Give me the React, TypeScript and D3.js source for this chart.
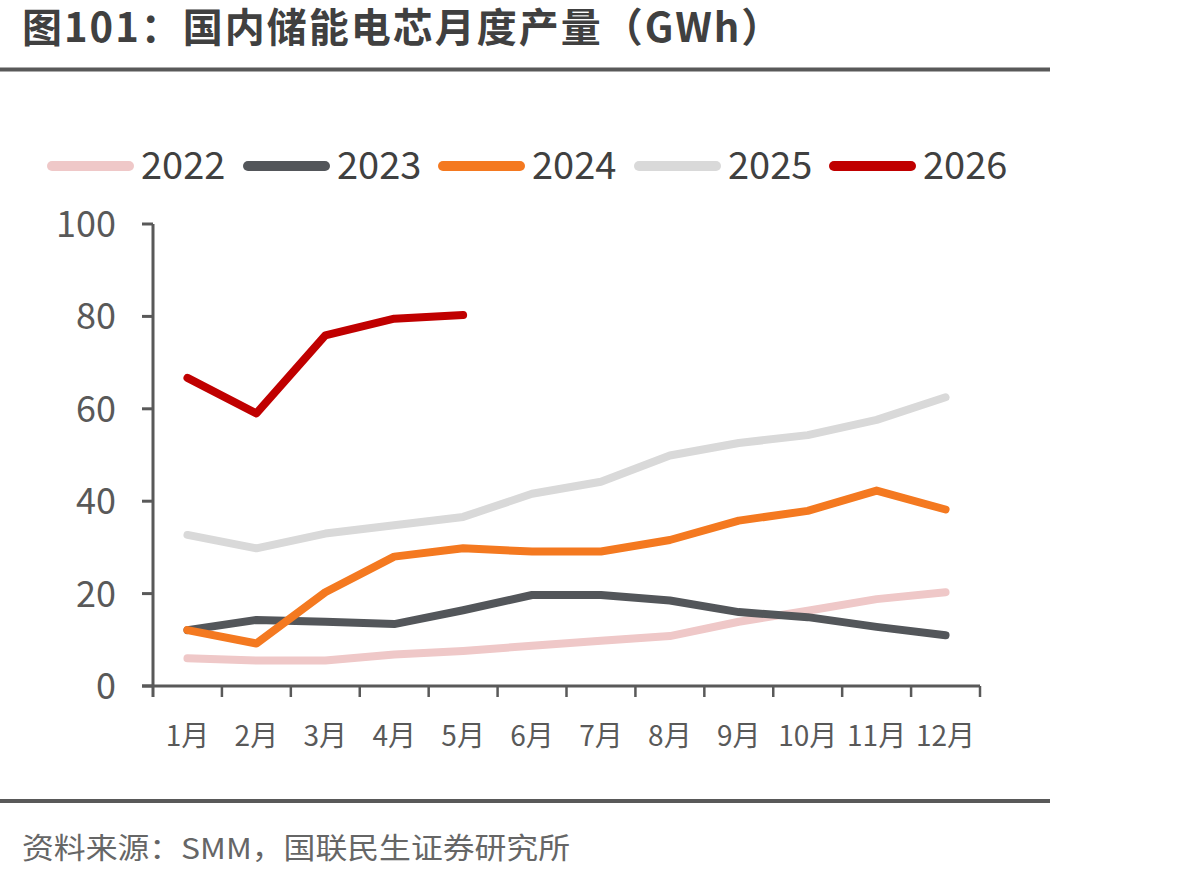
import React from "react";
import * as d3 from "d3";

const months = ["1月","2月","3月","4月","5月","6月","7月","8月","9月","10月","11月","12月"];
const yTicks = [0, 20, 40, 60, 80, 100];

const s2022 = [6.0, 5.5, 5.5, 6.8, 7.6, 8.7, 9.8, 10.8, 13.9, 16.3, 18.8, 20.3];
const s2023 = [12.1, 14.3, 13.9, 13.4, 16.4, 19.7, 19.7, 18.5, 16.0, 14.9, 12.8, 11.0];
const s2024 = [12.1, 9.2, 20.3, 28.0, 29.8, 29.1, 29.1, 31.6, 35.8, 37.9, 42.3, 38.2];
const s2025 = [32.7, 29.8, 33.0, 34.8, 36.6, 41.6, 44.2, 49.9, 52.6, 54.3, 57.6, 62.5];
const s2026 = [66.7, 59.0, 75.9, 79.5, 80.3];

const seriesNames = ["2022", "2023", "2024", "2025", "2026"];
const seriesData = [s2022, s2023, s2024, s2025, s2026];
const seriesColors = ["#EFC8C8", "#53565A", "#F47920", "#D9D9D9", "#C00000"];

const FONT = "'Microsoft YaHei', 'Noto Sans CJK SC', 'Noto Sans', sans-serif";

export default function App() {
  const W = 1199, H = 876;
  const x0 = 153, x1 = 980, yTop = 224, yBot = 686;
  const x = d3.scaleBand<string>().domain(months).range([x0, x1]);
  const y = d3.scaleLinear().domain([0, 100]).range([yBot, yTop]);
  const line = d3.line<number>()
    .x((_, i) => (x(months[i]) as number) + x.bandwidth() / 2)
    .y((v) => y(v));
  const axisColor = "#595959";
  const legendX = [47, 243, 438, 634, 829];

  return (
    <svg width={W} height={H} style={{ position: "absolute", left: 0, top: 0, background: "#fff" }}>
      <text x={22} y={42} fontFamily={FONT} fontWeight={700} fontSize={40} fill="#404040"
        letterSpacing={2}>图101：国内储能电芯月度产量（GWh）</text>
      <rect x={0} y={67.5} width={1050} height={4} fill={axisColor} />

      {/* legend */}
      {seriesNames.map((n, i) => (
        <g key={n}>
          <line x1={legendX[i] + 5} x2={legendX[i] + 82} y1={166} y2={166}
            stroke={seriesColors[i]} strokeWidth={10} strokeLinecap="round" />
          <text x={legendX[i] + 94} y={179} fontFamily={FONT} fontSize={38} fill="#404040">{n}</text>
        </g>
      ))}

      {/* y axis */}
      <line x1={x0} x2={x0} y1={yTop} y2={yBot + 11} stroke={axisColor} strokeWidth={3} />
      {yTicks.map((t) => (
        <g key={t}>
          <line x1={x0 - 11} x2={x0} y1={y(t)} y2={y(t)} stroke={axisColor} strokeWidth={3} />
          <text x={116} y={y(t)} dy="0.36em" textAnchor="end" fontFamily={FONT} fontSize={36} fill={axisColor}>{t}</text>
        </g>
      ))}

      {/* x axis */}
      <line x1={x0 - 11} x2={x1} y1={yBot} y2={yBot} stroke={axisColor} strokeWidth={3} />
      {months.map((m, i) => (
        <line key={"t" + m} x1={x0 + (i + 1) * x.step()} x2={x0 + (i + 1) * x.step()} y1={yBot} y2={yBot + 11}
          stroke={axisColor} strokeWidth={2.5} />
      ))}
      {months.map((m) => (
        <text key={m} x={(x(m) as number) + x.bandwidth() / 2} y={746} textAnchor="middle"
          fontFamily={FONT} fontSize={28} fill={axisColor}>{m}</text>
      ))}

      {/* series */}
      {seriesData.map((d, i) => (
        <path key={seriesNames[i]} d={line(d) || ""} fill="none" stroke={seriesColors[i]}
          strokeWidth={8} strokeLinecap="round" strokeLinejoin="round" />
      ))}

      <rect x={0} y={799} width={1050} height={4} fill={axisColor} />
      <text x={22} y={859} fontFamily={FONT} fontSize={29} fill="#666666"
        textLength={548} lengthAdjust="spacingAndGlyphs">资料来源：SMM，国联民生证券研究所</text>
    </svg>
  );
}
